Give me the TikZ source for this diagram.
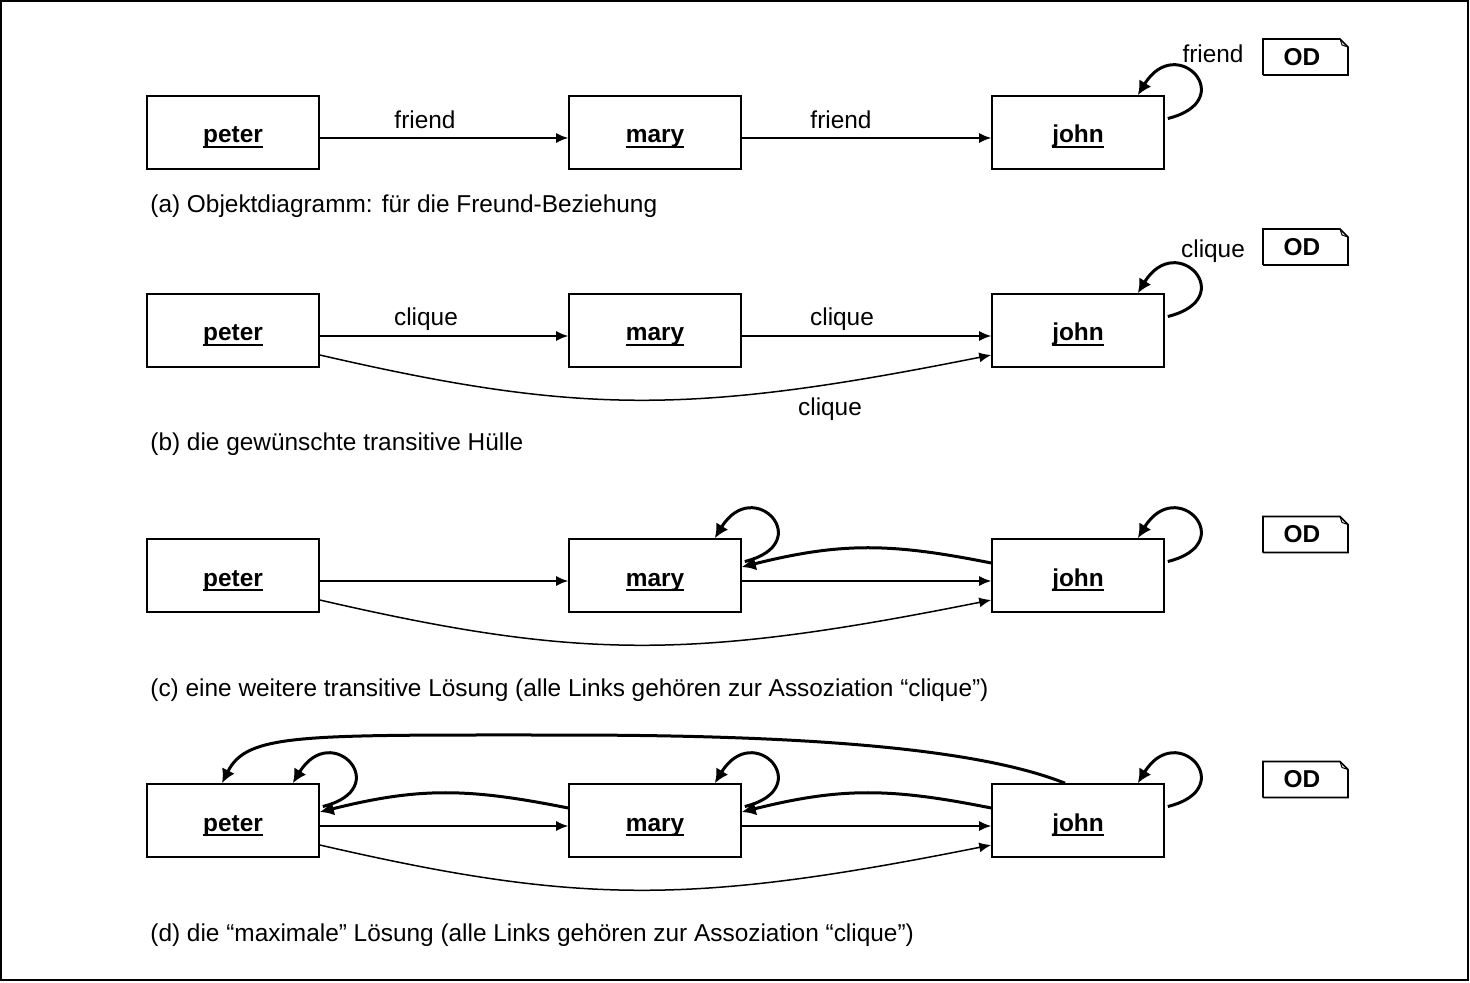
\documentclass[tikz,border=0pt]{standalone}
\usepackage{fontspec}
\setmainfont{Liberation Sans}
\usetikzlibrary{arrows.meta,calc}
\newcommand\ulname[1]{\setbox0\hbox{#1}\rlap{\rule[-2.7pt]{\wd0}{1pt}}\box0}
\newcommand\objloop[1]{\draw[backlink] ($(#1.east)+(3,-14)$) .. controls +(73,-18) and +(39,-64) .. ($(#1.north east)+(-27,0)$);}
\newcommand\odtag[2]{%
  \node[odbox] (#1) at #2 {\textbf{OD}};
  \draw[line width=0.8pt] ($(#1.center)+(-39,18)$) |- ($(#1.center)+(38,-18)$) -- ($(#1.center)+(46,-10)$) |- ($(#1.center)+(-39,18)$);
  \draw[line width=0.5pt] ($(#1.center)+(38,-18)$) -- ($(#1.center)+(40,-12)$) -- ($(#1.center)+(46,-10)$);
}
\begin{document}
\begin{tikzpicture}[x=0.5pt,y=-0.5pt,
  font=\fontsize{12.2}{14}\selectfont,
  box/.style={draw, line width=0.8pt, minimum width=86pt, minimum height=36.5pt, inner sep=0pt, text height=10.5pt, text depth=0pt, font=\fontsize{12.2}{14}\selectfont\bfseries},
  odbox/.style={inner sep=0pt},
  lbl/.style={inner sep=0pt},
  caption/.style={anchor=west, inner sep=0pt},
  link/.style={line width=0.75pt, -{Latex[length=6pt,width=5pt]}},
  backlink/.style={line width=1.5pt, -{Latex[length=7pt,width=7pt]}},
]
\useasboundingbox (0,0) rectangle (1470,983);
\draw[line width=0.6pt] (1,1) rectangle (1468,980);

% ---------- (a)
\node[box] (pa) at (233,132.5) {\ulname{peter}};
\node[box] (ma) at (655,132.5) {\ulname{mary}};
\node[box] (ja) at (1078,132.5) {\ulname{john}};
\draw[link] ($(pa.east)+(0,5.5)$) -- ($(ma.west)+(0,5.5)$);
\draw[link] ($(ma.east)+(0,5.5)$) -- ($(ja.west)+(0,5.5)$);
\node[lbl] (la1) at (425,120) {friend};
\node[lbl] (la2) at (841,120) {friend};
\objloop{ja}
\node[lbl] (la3) at (1213,54) {friend};
\odtag{oda}{(1302,57)}
\node[caption] (ca) at (150,206) {(a) Objektdiagramm: für die Freund-Beziehung};

% ---------- (b)
\node[box] (pb) at (233,330.5) {\ulname{peter}};
\node[box] (mb) at (655,330.5) {\ulname{mary}};
\node[box] (jb) at (1078,330.5) {\ulname{john}};
\draw[link] ($(pb.east)+(0,5.5)$) -- ($(mb.west)+(0,5.5)$);
\draw[link] ($(mb.east)+(0,5.5)$) -- ($(jb.west)+(0,5.5)$);
\draw[link] ($(pb.east)+(0,24.5)$) .. controls +(260,60) and +(-300,60) .. ($(jb.west)+(0,24.5)$);
\node[lbl] (lb1) at (426,319) {clique};
\node[lbl] (lb2) at (842,319) {clique};
\node[lbl] (lb3) at (830,409) {clique};
\objloop{jb}
\node[lbl] (lb4) at (1213,251) {clique};
\odtag{odb}{(1302,247)}
\node[caption] (cb) at (150,444) {(b) die gewünschte transitive Hülle};

% ---------- (c)
\node[box] (pc) at (233,575.5) {\ulname{peter}};
\node[box] (mc) at (655,575.5) {\ulname{mary}};
\node[box] (jc) at (1078,575.5) {\ulname{john}};
\draw[link] ($(pc.east)+(0,5.5)$) -- ($(mc.west)+(0,5.5)$);
\draw[link] ($(mc.east)+(0,5.5)$) -- ($(jc.west)+(0,5.5)$);
\draw[link] ($(pc.east)+(0,24.5)$) .. controls +(260,60) and +(-300,60) .. ($(jc.west)+(0,24.5)$);
\draw[backlink] ($(jc.west)+(0,-12.5)$) .. controls +(-100,-20) and +(100,-25) .. ($(mc.east)+(0,-8.5)$);
\objloop{mc}
\objloop{jc}
\odtag{odc}{(1302,534.5)}
\node[caption] (cc) at (150,690) {(c) eine weitere transitive Lösung (alle Links gehören zur Assoziation “clique”)};

% ---------- (d)
\node[box] (pd) at (233,820.5) {\ulname{peter}};
\node[box] (md) at (655,820.5) {\ulname{mary}};
\node[box] (jd) at (1078,820.5) {\ulname{john}};
\draw[link] ($(pd.east)+(0,5.5)$) -- ($(md.west)+(0,5.5)$);
\draw[link] ($(md.east)+(0,5.5)$) -- ($(jd.west)+(0,5.5)$);
\draw[link] ($(pd.east)+(0,24.5)$) .. controls +(260,60) and +(-300,60) .. ($(jd.west)+(0,24.5)$);
\draw[backlink] ($(md.west)+(0,-12.5)$) .. controls +(-100,-20) and +(100,-25) .. ($(pd.east)+(0,-8.5)$);
\draw[backlink] ($(jd.west)+(0,-12.5)$) .. controls +(-100,-20) and +(100,-25) .. ($(md.east)+(0,-8.5)$);
\coordinate (top) at (560,735);
\draw[backlink] ($(jd.north)+(-13,0)$) .. controls +(-100,-40) and +(200,0) .. (top)
   .. controls +(-260,0) and +(25,-50) .. ($(pd.north)+(-11,0)$);
\objloop{pd}
\objloop{md}
\objloop{jd}
\odtag{odd}{(1302,779.5)}
\node[caption] (cd) at (150,935) {(d) die “maximale” Lösung (alle Links gehören zur Assoziation “clique”)};
\end{tikzpicture}
\end{document}
